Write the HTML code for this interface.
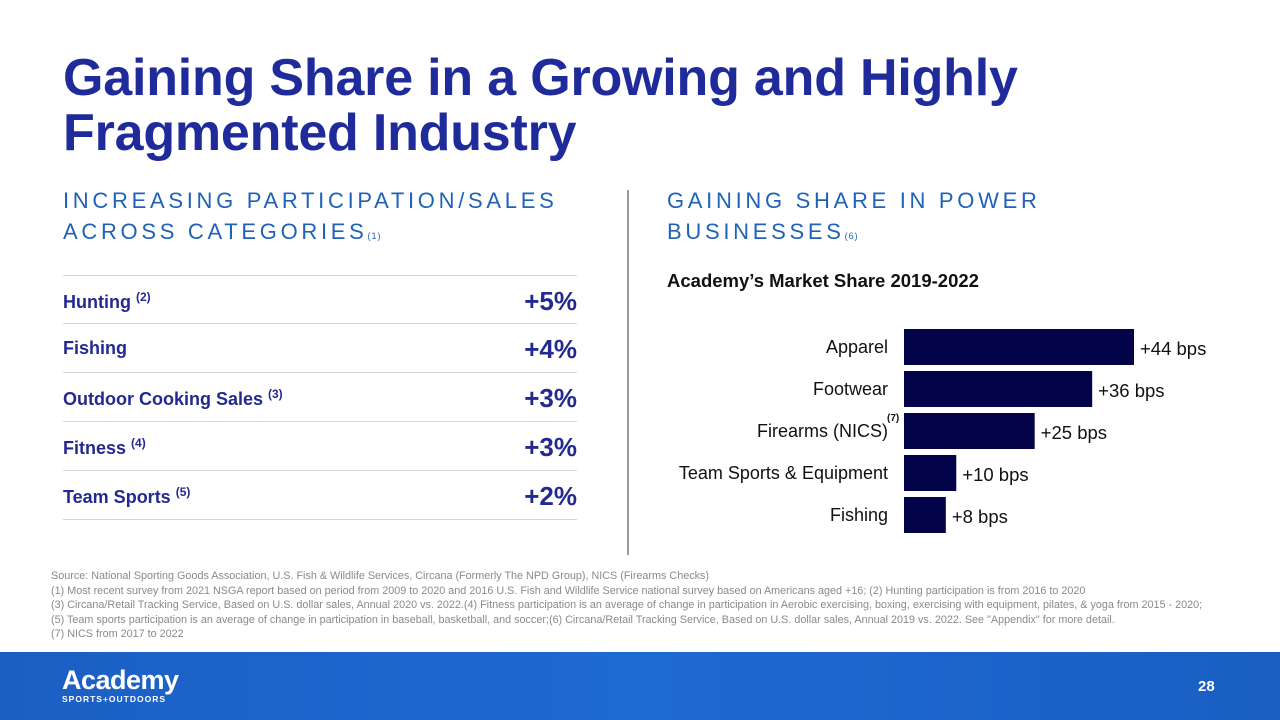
<!DOCTYPE html>
<html><head><meta charset="utf-8"><style>
body{margin:0;width:1280px;height:720px;overflow:hidden;background:#fff;font-family:"Liberation Sans",sans-serif;position:relative}
.abs{position:absolute}
h1{position:absolute;left:63px;top:51px;margin:0;font-size:52px;line-height:55px;color:#1f2b9b;font-weight:bold;letter-spacing:-0.2px}
.sec{position:absolute;font-size:22px;letter-spacing:3.7px;line-height:31px;color:#1f62b8}
.sec sup{font-size:9px;letter-spacing:1px;vertical-align:baseline}
.row{position:absolute;left:63px;width:514px;height:48px;border-top:1.5px solid #d6d6d6;color:#232a8f;font-weight:bold}
.row .l{position:absolute;left:0;top:14px;font-size:18px}
.row .l sup{font-size:12px}
.row .r{position:absolute;right:0;top:10px;font-size:26px}
.notes{position:absolute;left:51px;top:569px;font-size:10.8px;line-height:14.5px;color:#8a8a8a;white-space:nowrap}
</style></head><body>
<h1>Gaining Share in a Growing and Highly<br>Fragmented Industry</h1>
<div class="sec" style="left:63px;top:185px">INCREASING PARTICIPATION/SALES<br>ACROSS CATEGORIES<sup>(1)</sup></div>
<div class="sec" style="left:667px;top:185px">GAINING SHARE IN POWER<br>BUSINESSES<sup>(6)</sup></div>
<div class="abs" style="left:627px;top:190px;width:2px;height:365px;background:#9a9a9a"></div>
<div class="row" style="top:275px"><span class="l">Hunting <sup>(2)</sup></span><span class="r">+5%</span></div>
<div class="row" style="top:323px"><span class="l">Fishing</span><span class="r">+4%</span></div>
<div class="row" style="top:372px"><span class="l">Outdoor Cooking Sales <sup>(3)</sup></span><span class="r">+3%</span></div>
<div class="row" style="top:421px"><span class="l">Fitness <sup>(4)</sup></span><span class="r">+3%</span></div>
<div class="row" style="top:470px;border-bottom:1.5px solid #d6d6d6"><span class="l">Team Sports <sup>(5)</sup></span><span class="r">+2%</span></div>
<div class="abs" style="left:667px;top:270px;font-size:18.5px;font-weight:bold;color:#111">Academy’s Market Share 2019-2022</div>
<svg id="chart" class="abs" style="left:0;top:0" width="1280" height="720"></svg>
<div class="notes">Source: National Sporting Goods Association, U.S. Fish &amp; Wildlife Services, Circana (Formerly The NPD Group), NICS (Firearms Checks)<br>(1) Most recent survey from 2021 NSGA report based on period from 2009 to 2020 and 2016 U.S. Fish and Wildlife Service national survey based on Americans aged +16; (2) Hunting participation is from 2016 to 2020<br>(3) Circana/Retail Tracking Service, Based on U.S. dollar sales, Annual 2020 vs. 2022.(4) Fitness participation is an average of change in participation in Aerobic exercising, boxing, exercising with equipment, pilates, &amp; yoga from 2015 - 2020;<br>(5) Team sports participation is an average of change in participation in baseball, basketball, and soccer;(6) Circana/Retail Tracking Service, Based on U.S. dollar sales, Annual 2019 vs. 2022. See "Appendix" for more detail.<br>(7) NICS from 2017 to 2022</div>
<div class="abs" style="left:0;top:652px;width:1280px;height:68px;background:linear-gradient(90deg,#1c5fc4,#1d6ad2 50%,#1a5ec3)">
<div class="abs" style="left:62px;top:14px;color:#fff;font-weight:bold;font-size:27px;line-height:28px;letter-spacing:-0.5px">Academy<div style="font-size:8.5px;line-height:10px;letter-spacing:1px">SPORTS+OUTDOORS</div></div>
<div class="abs" style="left:1198px;top:26px;color:#fff;font-weight:bold;font-size:15px">28</div>
</div>
<script>
const categories=["Apparel","Footwear","Firearms (NICS)","Team Sports & Equipment","Fishing"];
const values=[44,36,25,10,8];
const valueLabels=["+44 bps","+36 bps","+25 bps","+10 bps","+8 bps"];
const svg=document.getElementById('chart');const NS='http://www.w3.org/2000/svg';
const x0=904,scale=230/44,y0=347,step=42,bh=36;
const xs=v=>x0+v*scale, ys=i=>y0+i*step;
categories.forEach((c,i)=>{
 const r=document.createElementNS(NS,'rect');
 r.setAttribute('x',x0);r.setAttribute('y',ys(i)-bh/2);r.setAttribute('width',xs(values[i])-x0);r.setAttribute('height',bh);r.setAttribute('fill','#03034a');
 
 
 svg.appendChild(r);
 const t=document.createElementNS(NS,'text');
 t.setAttribute('x',888);t.setAttribute('y',ys(i)+6);t.setAttribute('text-anchor','end');t.setAttribute('font-size','18');t.setAttribute('fill','#111');t.setAttribute('font-family','Liberation Sans');
 t.textContent=c;
 
 
 svg.appendChild(t);
 const v=document.createElementNS(NS,'text');
 v.setAttribute('x',xs(values[i])+6);v.setAttribute('y',ys(i)+8);v.setAttribute('font-size','18.5');v.setAttribute('fill','#111');v.setAttribute('font-family','Liberation Sans');
 v.textContent=valueLabels[i];
 
 
 svg.appendChild(v);
});
const s=document.createElementNS(NS,'text');
s.setAttribute('x',887);s.setAttribute('y',ys(2)-10);s.setAttribute('font-size','10');s.setAttribute('font-weight','bold');s.setAttribute('fill','#111');s.setAttribute('font-family','Liberation Sans');
s.textContent='(7)';


svg.appendChild(s);
</script>
</body></html>
